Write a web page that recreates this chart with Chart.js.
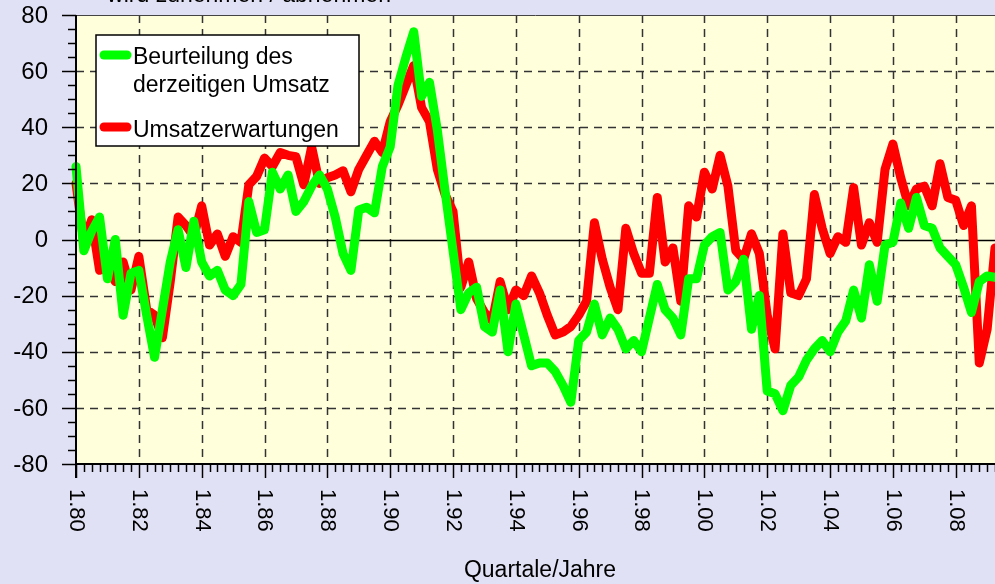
<!DOCTYPE html>
<html lang="de">
<head>
<meta charset="utf-8">
<title>Umsatz</title>
<script src="https://cdn.jsdelivr.net/npm/chart.js@4.4.0/dist/chart.umd.min.js"></script>
<style>
  html, body { margin: 0; padding: 0; background: #e1e1f5; overflow: hidden; }
  #wrap { width: 995px; height: 584px; }
</style>
</head>
<body>
<div id="wrap"><canvas id="chart" width="995" height="584"></canvas></div>
<script>
// Data
const yearLabels = ["1.80", "1.82", "1.84", "1.86", "1.88", "1.90", "1.92", "1.94",
  "1.96", "1.98", "1.00", "1.02", "1.04", "1.06", "1.08"];
const yTicks = [-80, -60, -40, -20, 0, 20, 40, 60, 80];
const seriesNames = [["Beurteilung des", "derzeitigen Umsatz"], ["Umsatzerwartungen"]];
const seriesColors = ["#00ff00", "#ff0000"];
const xTitle = "Quartale/Jahre";
const topTitle = "wird zunehmen / abnehmen";

const beurteilung = [26, -4, 3, 8, -14, 0, -27, -12, -11, -27,
  -42, -25, -8, 3.5, -10, 6.5, -8, -13, -11, -18,
  -20, -16, 13.5, 2.5, 3.5, 24, 18, 23, 10, 13.5,
  19, 23, 18, 8, -5, -11, 10.5, 11.5, 9.5, 26,
  33, 55, 65, 74, 51, 56, 39, 17, -4, -25,
  -19, -17, -31, -33, -18, -40, -23, -34, -45, -44,
  -44, -47, -52, -58, -36, -33, -23, -34, -28, -32,
  -39, -36, -40, -28, -16, -25, -28, -34, -14, -14,
  -2, 1, 2.5, -18, -15, -7, -32, -20, -54, -55,
  -61, -52, -49, -43, -39, -36, -40, -33, -29, -18,
  -28, -9, -22, -2, -1, 13, 4, 15, 5, 4,
  -3, -6, -9, -17, -26, -15, -13, -13.5];

const erwartungen = [20, -1, 7, -11, -10, -15, -8, -18, -6, -25,
  -27, -35, -15, 8, 5, 1, 12, -2, 2, -6,
  1, -1, 19.5, 22.5, 29, 26, 31, 30, 29.5, 19.5,
  33, 20, 22, 23, 24.5, 17, 25, 30, 35, 31,
  42, 48, 55, 62, 47, 42, 25, 16, 10, -17,
  -8, -21, -26, -29, -15, -25, -18, -20, -13, -19,
  -27, -34, -33, -31, -27, -22, 6, -7, -17, -25,
  4, -5, -12, -12, 15, -8, -3, -22, 12, 8,
  24, 18, 30, 19, -4, -7, 2, -5, -27, -39,
  2, -19, -20, -14, 16, 4, -5, 1, -1, 18.5,
  -2, 6, -1, 25, 34, 22, 12, 18, 19, 12,
  27, 15, 14, 5, 12, -44, -32, -3];

// one category per quarter, starting 1980 Q1
const quarters = beurteilung.map((_, i) => (1980 + Math.floor(i / 4)) + "/" + (i % 4 + 1));

const FONT = '"Liberation Sans", Arial, sans-serif';

// background, grid, axes and legend drawn from the chart scales
const framePlugin = {
  id: "frame",
  beforeDraw(chart) {
    const { ctx, chartArea: a } = chart;
    ctx.save();
    ctx.fillStyle = "#e1e1f5";
    ctx.fillRect(0, 0, chart.width, chart.height);
    ctx.fillStyle = "#ffffdc";
    ctx.fillRect(a.left, a.top, a.right - a.left, a.bottom - a.top);
    ctx.restore();
  },
  beforeDatasetsDraw(chart) {
    const { ctx, chartArea: a, scales: { x, y } } = chart;
    ctx.save();
    ctx.strokeStyle = "#333";
    ctx.lineWidth = 1.5;
    ctx.setLineDash([8, 6]);
    yTicks.forEach((v) => {
      if (v === 0 || v === yTicks[0] || v === yTicks[yTicks.length - 1]) return;
      const py = Math.round(y.getPixelForValue(v)) + 0.5;
      ctx.beginPath();
      ctx.moveTo(a.left, py);
      ctx.lineTo(a.right, py);
      ctx.stroke();
    });
    yearLabels.forEach((_, k) => {
      if (k === 0) return;
      const px = Math.round(x.getPixelForValue(k * 8)) + 0.5;
      ctx.beginPath();
      ctx.moveTo(px, a.top);
      ctx.lineTo(px, a.bottom);
      ctx.stroke();
    });
    ctx.setLineDash([]);
    // zero line
    const z = Math.round(y.getPixelForValue(0)) + 0.5;
    ctx.strokeStyle = "#000";
    ctx.lineWidth = 1.5;
    ctx.beginPath();
    ctx.moveTo(a.left, z);
    ctx.lineTo(a.right, z);
    ctx.stroke();
    // top border
    ctx.strokeStyle = "#444";
    ctx.lineWidth = 1;
    ctx.beginPath();
    ctx.moveTo(a.left, a.top + 0.5);
    ctx.lineTo(a.right, a.top + 0.5);
    ctx.stroke();
    ctx.restore();
  },
  afterDatasetsDraw(chart) {
    const { ctx, chartArea: a, scales: { x, y } } = chart;
    ctx.save();
    ctx.strokeStyle = "#000";
    ctx.fillStyle = "#000";
    ctx.lineWidth = 2;

    // y axis + ticks
    ctx.beginPath();
    ctx.moveTo(a.left, a.top);
    ctx.lineTo(a.left, a.bottom + 14);
    ctx.stroke();
    ctx.lineWidth = 1.5;
    for (let v = yTicks[0]; v <= yTicks[yTicks.length - 1]; v += 5) {
      const py = Math.round(y.getPixelForValue(v)) + 0.5;
      const len = v % 20 === 0 ? 14 : 8;
      ctx.beginPath();
      ctx.moveTo(a.left - len, py);
      ctx.lineTo(a.left, py);
      ctx.stroke();
    }
    ctx.font = "24px " + FONT;
    ctx.textAlign = "right";
    ctx.textBaseline = "middle";
    yTicks.forEach((v) => {
      ctx.fillText(String(v), 48, y.getPixelForValue(v) + 1);
    });

    // x axis + ticks
    ctx.lineWidth = 2;
    ctx.beginPath();
    ctx.moveTo(a.left, a.bottom);
    ctx.lineTo(a.right, a.bottom);
    ctx.stroke();
    ctx.lineWidth = 1.5;
    quarters.forEach((_, i) => {
      const px = Math.round(x.getPixelForValue(i)) + 0.5;
      const len = i % 8 === 0 ? 14 : 8;
      ctx.beginPath();
      ctx.moveTo(px, a.bottom);
      ctx.lineTo(px, a.bottom + len);
      ctx.stroke();
    });
    ctx.font = "22px " + FONT;
    ctx.textAlign = "left";
    ctx.textBaseline = "middle";
    yearLabels.forEach((lab, k) => {
      ctx.save();
      ctx.translate(x.getPixelForValue(k * 8), a.bottom + 25);
      ctx.rotate(Math.PI / 2);
      ctx.fillText(lab, 0, 0);
      ctx.restore();
    });

    // axis titles
    ctx.font = "23px " + FONT;
    ctx.textAlign = "center";
    ctx.textBaseline = "alphabetic";
    ctx.fillText(xTitle, 540, 577);
    ctx.fillText(topTitle, 249, 2);

    // legend
    ctx.fillStyle = "#fff";
    ctx.fillRect(96, 35, 263, 111);
    ctx.strokeStyle = "#000";
    ctx.lineWidth = 1.5;
    ctx.strokeRect(96, 35, 263, 111);
    const rows = [{ sample: 55, base: 64 }, { sample: 127, base: 137 }];
    chart.data.datasets.forEach((ds, d) => {
      ctx.strokeStyle = ds.borderColor;
      ctx.lineWidth = 9;
      ctx.lineCap = "round";
      ctx.beginPath();
      ctx.moveTo(104, rows[d].sample);
      ctx.lineTo(127, rows[d].sample);
      ctx.stroke();
      ctx.fillStyle = "#000";
      ctx.textAlign = "left";
      ds.label.forEach((line, j) => {
        ctx.fillText(line, 133, rows[d].base + j * 28);
      });
    });
    ctx.restore();
  }
};

new Chart(document.getElementById("chart"), {
  type: "line",
  data: {
    labels: quarters,
    datasets: [
      {
        label: seriesNames[0],
        data: beurteilung,
        borderColor: seriesColors[0],
        borderWidth: 9,
      },
      {
        label: seriesNames[1],
        data: erwartungen,
        borderColor: seriesColors[1],
        borderWidth: 9,
      },
    ],
  },
  options: {
    responsive: false,
    animation: false,
    layout: { padding: { left: 76, top: 15, right: 0, bottom: 120 } },
    elements: {
      point: { radius: 0 },
      line: { tension: 0, borderJoinStyle: "round", borderCapStyle: "round", fill: false },
    },
    datasets: { line: { clip: false } },
    scales: {
      x: { type: "category", display: false, offset: false },
      y: { display: false, min: -80, max: 80 },
    },
    plugins: { legend: { display: false }, tooltip: { enabled: false } },
  },
  plugins: [framePlugin],
});
</script>
</body>
</html>
